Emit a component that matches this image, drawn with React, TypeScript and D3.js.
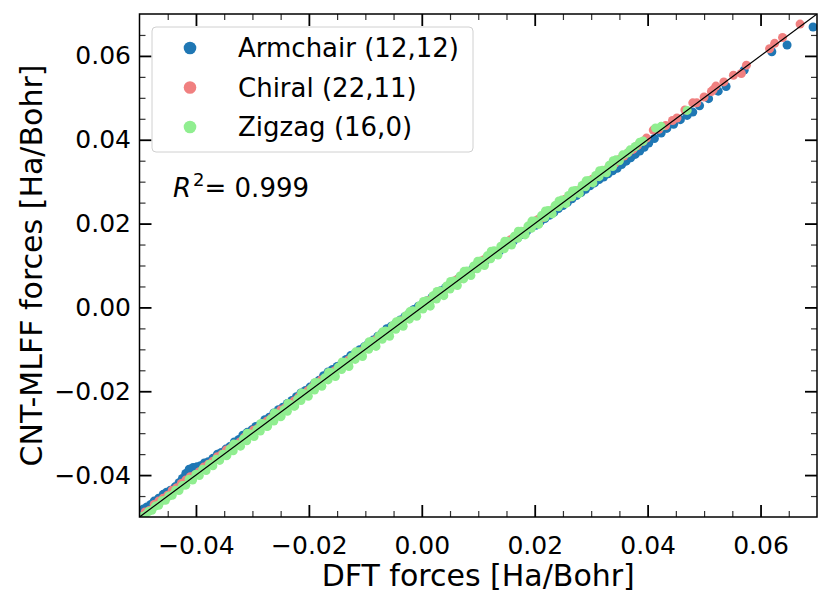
import React, { useEffect, useRef } from 'react';
import * as d3 from 'd3';

type Pt = [number, number]; // [DFT force, CNT-MLFF force] in Ha/Bohr

const armchair: Pt[] = [
  [-0.0500, -0.0492], [-0.0493, -0.0481], [-0.0487, -0.0476], [-0.0480, -0.0470], [-0.0474, -0.0462],
  [-0.0466, -0.0455], [-0.0458, -0.0446], [-0.0452, -0.0441], [-0.0445, -0.0436], [-0.0437, -0.0428],
  [-0.0430, -0.0418], [-0.0424, -0.0408], [-0.0418, -0.0396], [-0.0412, -0.0386], [-0.0405, -0.0382],
  [-0.0398, -0.0380], [-0.0392, -0.0378], [-0.0385, -0.0371], [-0.0378, -0.0368], [-0.0370, -0.0360],
  [-0.0362, -0.0350], [-0.0355, -0.0346], [-0.0347, -0.0338], [-0.0340, -0.0332], [-0.0332, -0.0321],
  [-0.0324, -0.0315], [-0.0317, -0.0305], [-0.0309, -0.0298], [-0.0301, -0.0292], [-0.0294, -0.0284],
  [-0.0286, -0.0279], [-0.0278, -0.0268], [-0.0270, -0.0262], [-0.0262, -0.0252], [-0.0254, -0.0244],
  [-0.0246, -0.0238], [-0.0238, -0.0229], [-0.0230, -0.0222], [-0.0222, -0.0213], [-0.0214, -0.0204],
  [-0.0206, -0.0198], [-0.0198, -0.0190], [-0.0190, -0.0181], [-0.0182, -0.0174], [-0.0174, -0.0163],
  [-0.0166, -0.0154], [-0.0158, -0.0148], [-0.0150, -0.0141], [-0.0142, -0.0134], [-0.0134, -0.0124],
  [-0.0126, -0.0115], [-0.0118, -0.0110], [-0.0110, -0.0101], [-0.0102, -0.0094], [-0.0094, -0.0085],
  [-0.0086, -0.0078], [-0.0078, -0.0069], [-0.0070, -0.0061], [-0.0062, -0.0051], [-0.0054, -0.0045],
  [-0.0046, -0.0038], [-0.0038, -0.0030], [-0.0030, -0.0022], [-0.0022, -0.0014], [-0.0014, -0.0005],
  [-0.0006, 0.0003], [0.0002, 0.0009], [0.0010, 0.0016], [0.0018, 0.0024], [0.0026, 0.0031],
  [0.0034, 0.0040], [0.0042, 0.0047], [0.0050, 0.0055], [0.0058, 0.0062], [0.0066, 0.0070],
  [0.0074, 0.0077], [0.0082, 0.0084], [0.0090, 0.0092], [0.0098, 0.0099], [0.0106, 0.0107],
  [0.0114, 0.0113], [0.0122, 0.0121], [0.0130, 0.0128], [0.0138, 0.0135], [0.0146, 0.0144],
  [0.0154, 0.0151], [0.0162, 0.0158], [0.0170, 0.0166], [0.0178, 0.0174], [0.0186, 0.0182],
  [0.0194, 0.0190], [0.0202, 0.0196], [0.0210, 0.0205], [0.0218, 0.0212], [0.0226, 0.0220],
  [0.0234, 0.0227], [0.0242, 0.0236], [0.0250, 0.0243], [0.0258, 0.0251], [0.0266, 0.0259],
  [0.0274, 0.0267], [0.0282, 0.0274], [0.0290, 0.0282], [0.0298, 0.0290], [0.0306, 0.0297],
  [0.0314, 0.0305], [0.0322, 0.0311], [0.0330, 0.0319], [0.0338, 0.0326], [0.0346, 0.0332],
  [0.0354, 0.0341], [0.0362, 0.0349], [0.0370, 0.0357], [0.0378, 0.0365], [0.0386, 0.0373],
  [0.0394, 0.0382], [0.0402, 0.0392], [0.0412, 0.0403], [0.0424, 0.0416], [0.0434, 0.0427],
  [0.0446, 0.0437], [0.0458, 0.0448], [0.0470, 0.0458], [0.0480, 0.0466], [0.0492, 0.0481],
  [0.0508, 0.0498], [0.0525, 0.0516], [0.0539, 0.0527], [0.0571, 0.0566], [0.0620, 0.0610],
  [0.0647, 0.0626], [0.0693, 0.0669],
];

const chiral: Pt[] = [
  [-0.0498, -0.0500], [-0.0490, -0.0488], [-0.0482, -0.0484], [-0.0474, -0.0470], [-0.0466, -0.0462],
  [-0.0458, -0.0455], [-0.0450, -0.0448], [-0.0442, -0.0436], [-0.0434, -0.0430], [-0.0426, -0.0420],
  [-0.0418, -0.0412], [-0.0410, -0.0404], [-0.0402, -0.0400], [-0.0394, -0.0392], [-0.0386, -0.0381],
  [-0.0378, -0.0374], [-0.0370, -0.0367], [-0.0362, -0.0356], [-0.0354, -0.0350], [-0.0346, -0.0340],
  [-0.0338, -0.0335], [-0.0330, -0.0327], [-0.0322, -0.0321], [-0.0314, -0.0310], [-0.0306, -0.0304],
  [-0.0298, -0.0293], [-0.0290, -0.0288], [-0.0282, -0.0277], [-0.0274, -0.0271], [-0.0266, -0.0263],
  [-0.0258, -0.0256], [-0.0250, -0.0245], [-0.0242, -0.0240], [-0.0234, -0.0231], [-0.0226, -0.0223],
  [-0.0218, -0.0214], [-0.0210, -0.0208], [-0.0202, -0.0199], [-0.0194, -0.0190], [-0.0186, -0.0184],
  [-0.0178, -0.0173], [-0.0170, -0.0168], [-0.0162, -0.0159], [-0.0154, -0.0151], [-0.0146, -0.0142],
  [-0.0138, -0.0136], [-0.0130, -0.0126], [-0.0122, -0.0121], [-0.0114, -0.0110], [-0.0106, -0.0104],
  [-0.0098, -0.0095], [-0.0090, -0.0088], [-0.0082, -0.0078], [-0.0074, -0.0073], [-0.0066, -0.0062],
  [-0.0058, -0.0057], [-0.0050, -0.0046], [-0.0042, -0.0041], [-0.0034, -0.0031], [-0.0026, -0.0025],
  [-0.0018, -0.0014], [-0.0010, -0.0009], [-0.0002, 0.0001], [0.0006, 0.0006], [0.0014, 0.0017],
  [0.0022, 0.0022], [0.0030, 0.0033], [0.0038, 0.0037], [0.0046, 0.0050], [0.0054, 0.0053],
  [0.0062, 0.0066], [0.0070, 0.0069], [0.0078, 0.0082], [0.0086, 0.0085], [0.0094, 0.0098],
  [0.0102, 0.0101], [0.0110, 0.0114], [0.0118, 0.0117], [0.0126, 0.0130], [0.0134, 0.0133],
  [0.0142, 0.0146], [0.0150, 0.0150], [0.0158, 0.0162], [0.0166, 0.0166], [0.0174, 0.0178],
  [0.0182, 0.0182], [0.0190, 0.0194], [0.0198, 0.0198], [0.0206, 0.0210], [0.0214, 0.0214],
  [0.0222, 0.0226], [0.0230, 0.0231], [0.0238, 0.0242], [0.0246, 0.0247], [0.0254, 0.0258],
  [0.0262, 0.0263], [0.0270, 0.0274], [0.0278, 0.0279], [0.0286, 0.0290], [0.0294, 0.0296],
  [0.0302, 0.0306], [0.0310, 0.0312], [0.0318, 0.0322], [0.0326, 0.0328], [0.0334, 0.0338],
  [0.0342, 0.0344], [0.0350, 0.0353], [0.0358, 0.0361], [0.0366, 0.0370], [0.0374, 0.0377],
  [0.0382, 0.0386], [0.0392, 0.0396], [0.0398, 0.0404], [0.0410, 0.0423], [0.0420, 0.0425],
  [0.0432, 0.0434], [0.0444, 0.0446], [0.0452, 0.0452], [0.0466, 0.0471], [0.0480, 0.0488],
  [0.0487, 0.0488], [0.0500, 0.0502], [0.0513, 0.0515], [0.0516, 0.0519], [0.0521, 0.0528],
  [0.0535, 0.0538], [0.0552, 0.0554], [0.0566, 0.0558], [0.0575, 0.0578], [0.0616, 0.0617],
  [0.0625, 0.0630], [0.0639, 0.0644], [0.0670, 0.0676],
];

const zigzag: Pt[] = [
  [-0.0500, -0.0506], [-0.0495, -0.0499], [-0.0490, -0.0496], [-0.0484, -0.0487], [-0.0478, -0.0484],
  [-0.0472, -0.0474], [-0.0466, -0.0472], [-0.0460, -0.0461], [-0.0454, -0.0460], [-0.0448, -0.0450],
  [-0.0442, -0.0448], [-0.0436, -0.0436], [-0.0430, -0.0437], [-0.0424, -0.0425], [-0.0418, -0.0424],
  [-0.0412, -0.0410], [-0.0406, -0.0412], [-0.0400, -0.0398], [-0.0394, -0.0401], [-0.0388, -0.0386],
  [-0.0382, -0.0389], [-0.0376, -0.0374], [-0.0370, -0.0378], [-0.0364, -0.0362], [-0.0358, -0.0365],
  [-0.0352, -0.0350], [-0.0346, -0.0354], [-0.0340, -0.0338], [-0.0334, -0.0342], [-0.0328, -0.0327],
  [-0.0322, -0.0330], [-0.0316, -0.0314], [-0.0310, -0.0318], [-0.0304, -0.0302], [-0.0298, -0.0306],
  [-0.0292, -0.0291], [-0.0286, -0.0295], [-0.0280, -0.0278], [-0.0274, -0.0284], [-0.0268, -0.0267],
  [-0.0262, -0.0271], [-0.0256, -0.0255], [-0.0250, -0.0261], [-0.0244, -0.0244], [-0.0238, -0.0248],
  [-0.0232, -0.0232], [-0.0226, -0.0236], [-0.0220, -0.0219], [-0.0214, -0.0222], [-0.0208, -0.0206],
  [-0.0202, -0.0210], [-0.0196, -0.0193], [-0.0190, -0.0197], [-0.0184, -0.0180], [-0.0178, -0.0185],
  [-0.0172, -0.0168], [-0.0166, -0.0173], [-0.0160, -0.0155], [-0.0154, -0.0160], [-0.0148, -0.0143],
  [-0.0142, -0.0148], [-0.0136, -0.0131], [-0.0130, -0.0136], [-0.0124, -0.0118], [-0.0118, -0.0124],
  [-0.0112, -0.0106], [-0.0106, -0.0112], [-0.0100, -0.0093], [-0.0094, -0.0100], [-0.0088, -0.0081],
  [-0.0082, -0.0088], [-0.0076, -0.0068], [-0.0070, -0.0076], [-0.0064, -0.0056], [-0.0058, -0.0064],
  [-0.0052, -0.0044], [-0.0046, -0.0052], [-0.0040, -0.0032], [-0.0034, -0.0040], [-0.0028, -0.0020],
  [-0.0022, -0.0028], [-0.0016, -0.0008], [-0.0010, -0.0016], [-0.0004, 0.0004], [0.0002, -0.0004],
  [0.0008, 0.0016], [0.0014, 0.0008], [0.0020, 0.0028], [0.0026, 0.0020], [0.0032, 0.0039],
  [0.0038, 0.0032], [0.0044, 0.0051], [0.0050, 0.0044], [0.0056, 0.0063], [0.0062, 0.0056],
  [0.0068, 0.0075], [0.0074, 0.0068], [0.0080, 0.0087], [0.0086, 0.0080], [0.0092, 0.0099],
  [0.0098, 0.0092], [0.0104, 0.0111], [0.0110, 0.0104], [0.0116, 0.0123], [0.0122, 0.0116],
  [0.0128, 0.0135], [0.0134, 0.0128], [0.0140, 0.0146], [0.0146, 0.0140], [0.0152, 0.0158],
  [0.0158, 0.0152], [0.0164, 0.0170], [0.0170, 0.0165], [0.0176, 0.0182], [0.0182, 0.0177],
  [0.0188, 0.0194], [0.0194, 0.0189], [0.0200, 0.0206], [0.0206, 0.0202], [0.0212, 0.0219],
  [0.0218, 0.0215], [0.0224, 0.0231], [0.0230, 0.0227], [0.0236, 0.0243], [0.0242, 0.0240],
  [0.0248, 0.0256], [0.0254, 0.0252], [0.0260, 0.0267], [0.0266, 0.0264], [0.0272, 0.0279],
  [0.0278, 0.0276], [0.0284, 0.0291], [0.0290, 0.0288], [0.0296, 0.0303], [0.0302, 0.0300],
  [0.0308, 0.0315], [0.0314, 0.0312], [0.0320, 0.0327], [0.0326, 0.0324], [0.0332, 0.0339],
  [0.0338, 0.0336], [0.0344, 0.0352], [0.0350, 0.0350], [0.0356, 0.0364], [0.0364, 0.0368],
  [0.0369, 0.0376], [0.0378, 0.0384], [0.0386, 0.0394], [0.0392, 0.0397], [0.0414, 0.0428],
  [0.0424, 0.0432], [0.0470, 0.0470],
  [-0.0345, -0.0352], [-0.0333, -0.0326], [-0.0321, -0.0331], [-0.0309, -0.0300], [-0.0297, -0.0308],
  [-0.0285, -0.0277], [-0.0273, -0.0283], [-0.0261, -0.0252], [-0.0249, -0.0259], [-0.0237, -0.0229],
  [-0.0225, -0.0235], [-0.0213, -0.0204], [-0.0201, -0.0212], [-0.0189, -0.0179], [-0.0177, -0.0188],
  [-0.0165, -0.0155], [-0.0153, -0.0165], [-0.0141, -0.0130], [-0.0129, -0.0141], [-0.0117, -0.0106],
  [-0.0105, -0.0117], [-0.0093, -0.0082], [-0.0081, -0.0093], [-0.0069, -0.0058], [-0.0057, -0.0069],
  [-0.0045, -0.0034], [-0.0033, -0.0045], [-0.0021, -0.0010], [-0.0009, -0.0021], [0.0003, 0.0014],
  [0.0015, 0.0003], [0.0027, 0.0038], [0.0039, 0.0028], [0.0051, 0.0062], [0.0063, 0.0052],
  [0.0075, 0.0086], [0.0087, 0.0076], [0.0099, 0.0110], [0.0111, 0.0100], [0.0123, 0.0134],
  [0.0135, 0.0125], [0.0147, 0.0158], [0.0159, 0.0149], [0.0171, 0.0182], [0.0183, 0.0173],
  [0.0195, 0.0206], [0.0207, 0.0198], [0.0219, 0.0230], [0.0231, 0.0223], [0.0243, 0.0254],
  [0.0255, 0.0248], [0.0267, 0.0278], [0.0279, 0.0272], [0.0291, 0.0302], [0.0303, 0.0297],
  [0.0315, 0.0326], [0.0327, 0.0321], [0.0339, 0.0350],
];

const seriesNames = ['Armchair (12,12)', 'Chiral (22,11)', 'Zigzag (16,0)'];
const seriesColors = ['#1f77b4', '#f08080', '#90ee90'];
const axisDomain: [number, number] = [-0.05, 0.07];
const majorTicks = [-0.04, -0.02, 0, 0.02, 0.04, 0.06];
const minorTicks = [-0.045, -0.035, -0.03, -0.025, -0.015, -0.01, -0.005, 0.005, 0.01, 0.015,
  0.025, 0.03, 0.035, 0.045, 0.05, 0.055, 0.065];
const r2Value = '0.999';

const FONT = 'DejaVu Sans, sans-serif';

const ParityPlot = () => {
  const svgRef = useRef<SVGSVGElement>(null);

  useEffect(() => {
    if (!svgRef.current) return;
    document.body.style.margin = '0';

    const width = 830;
    const height = 602;
    const left = 139.5, right = 817, top = 14, bottom = 517;

    const svg = d3.select(svgRef.current);
    svg.selectAll('*').remove();

    svg.append('rect').attr('width', width).attr('height', height).attr('fill', '#fff');

    const x = d3.scaleLinear().domain(axisDomain).range([left, right]);
    const y = d3.scaleLinear().domain(axisDomain).range([bottom, top]);

    svg.append('defs').append('clipPath').attr('id', 'plot-clip')
      .append('rect')
      .attr('x', left).attr('y', top)
      .attr('width', right - left).attr('height', bottom - top);

    const plot = svg.append('g').attr('clip-path', 'url(#plot-clip)');

    // scatter, drawn in order so zigzag ends up on top
    [armchair, chiral, zigzag].forEach((data, i) => {
      plot.append('g')
        .selectAll('circle')
        .data(data)
        .join('circle')
        .attr('cx', d => x(d[0]))
        .attr('cy', d => y(d[1]))
        .attr('r', 4.5)
        .attr('fill', seriesColors[i]);
    });

    // y = x reference line
    plot.append('line')
      .attr('x1', x(axisDomain[0])).attr('y1', y(axisDomain[0]))
      .attr('x2', x(axisDomain[1])).attr('y2', y(axisDomain[1]))
      .attr('stroke', '#000')
      .attr('stroke-width', 1.2);

    // ticks, all pointing inwards
    const fmt = d3.format('.2f');
    const styleAxis = (g: d3.Selection<SVGGElement, unknown, null, undefined>, major: boolean) => {
      g.select('.domain').remove();
      g.selectAll('.tick line')
        .attr('stroke', major ? '#000' : '#333')
        .attr('stroke-width', major ? 1.8 : 1.2);
      g.selectAll('.tick text')
        .attr('font-family', FONT)
        .attr('font-size', 25)
        .attr('fill', '#000');
    };

    const addAxis = (axis: d3.Axis<d3.NumberValue>, tx: number, ty: number, major: boolean) => {
      const g = svg.append('g').attr('transform', `translate(${tx},${ty})`).call(axis);
      styleAxis(g, major);
      return g;
    };

    addAxis(d3.axisBottom(x).tickValues(majorTicks).tickSize(-12).tickPadding(19)
      .tickFormat(d => fmt(d as number)), 0, bottom, true);
    addAxis(d3.axisBottom(x).tickValues(minorTicks).tickSize(-6).tickFormat(() => ''), 0, bottom, false);
    addAxis(d3.axisTop(x).tickValues(majorTicks).tickSize(-12).tickFormat(() => ''), 0, top, true);
    addAxis(d3.axisTop(x).tickValues(minorTicks).tickSize(-6).tickFormat(() => ''), 0, top, false);
    addAxis(d3.axisLeft(y).tickValues(majorTicks).tickSize(-12).tickPadding(8.5)
      .tickFormat(d => fmt(d as number)), left, 0, true);
    addAxis(d3.axisLeft(y).tickValues(minorTicks).tickSize(-6).tickFormat(() => ''), left, 0, false);
    addAxis(d3.axisRight(y).tickValues(majorTicks).tickSize(-12).tickFormat(() => ''), right, 0, true);
    addAxis(d3.axisRight(y).tickValues(minorTicks).tickSize(-6).tickFormat(() => ''), right, 0, false);

    // frame
    svg.append('rect')
      .attr('x', left).attr('y', top)
      .attr('width', right - left).attr('height', bottom - top)
      .attr('fill', 'none')
      .attr('stroke', '#000')
      .attr('stroke-width', 1.5);

    // axis titles
    svg.append('text')
      .attr('x', (left + right) / 2)
      .attr('y', 586)
      .attr('text-anchor', 'middle')
      .attr('font-family', FONT)
      .attr('font-size', 30)
      .text('DFT forces [Ha/Bohr]');

    svg.append('text')
      .attr('transform', `translate(42,${(top + bottom) / 2}) rotate(-90)`)
      .attr('text-anchor', 'middle')
      .attr('font-family', FONT)
      .attr('font-size', 30)
      .text('CNT-MLFF forces [Ha/Bohr]');

    // legend
    const legend = svg.append('g');
    legend.append('rect')
      .attr('x', 152).attr('y', 27)
      .attr('width', 321).attr('height', 125)
      .attr('rx', 4)
      .attr('fill', 'rgba(255,255,255,0.8)')
      .attr('stroke', '#d0d0d0')
      .attr('stroke-width', 1);

    seriesNames.forEach((name, i) => {
      const cy = 48 + i * 39.5;
      legend.append('circle')
        .attr('cx', 190).attr('cy', cy).attr('r', 6.3)
        .attr('fill', seriesColors[i]);
      legend.append('text')
        .attr('x', 238).attr('y', cy + 9)
        .attr('font-family', FONT)
        .attr('font-size', 26)
        .text(name);
    });

    // R^2 annotation
    const r2 = svg.append('text')
      .attr('x', 173).attr('y', 197)
      .attr('font-family', FONT)
      .attr('font-size', 26);
    r2.append('tspan').attr('font-style', 'italic').text('R');
    r2.append('tspan').attr('font-size', 18).attr('dy', -11).attr('dx', 2).text('2');
    r2.append('tspan').attr('dy', 11).text(`= ${r2Value}`);
  }, []);

  return <svg ref={svgRef} width={830} height={602} viewBox="0 0 830 602" style={{ display: 'block' }} />;
};

export default function App() {
  return <ParityPlot />;
}
